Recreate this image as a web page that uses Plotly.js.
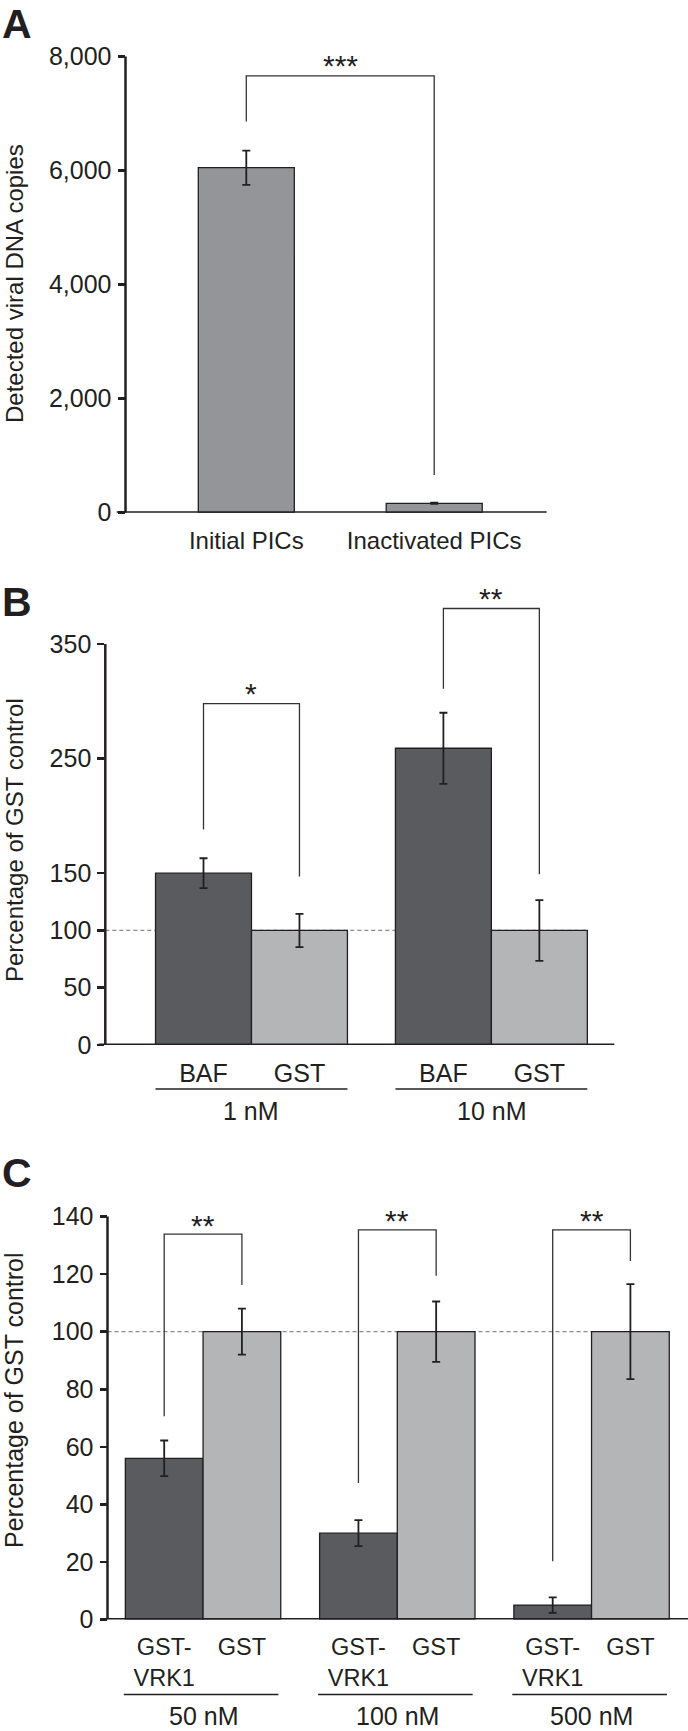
<!DOCTYPE html>
<html><head><meta charset="utf-8">
<script src="https://cdn.plot.ly/plotly-3.0.1.min.js"></script>
<style>html,body{margin:0;padding:0;background:#fff;} #chart{width:688px;height:1731px;}</style>
</head><body><div id="chart"></div>
<script>
// ---------- Panel A data ----------
const aCategories = ['Initial PICs', 'Inactivated PICs'];
const aValues = [6050, 165];
const aErrors = [300, 10];
const aTicks = [0, 2000, 4000, 6000, 8000];
const aSigLabels = ['***'];
const aSigPairs = [[0, 1]];
const aSigLegBase = [[6860, 660]];
const aSigTop = [7660];
const aSigText = [7960];

// ---------- Panel B data ----------
const bGroups = ['1 nM', '10 nM'];
const bSamples = ['BAF', 'GST'];
const bBAF = [150, 259];
const bBAFErr = [13, 31];
const bGST = [100, 100];
const bGSTErr = [14.5, 26.5];
const bTicks = [0, 50, 100, 150, 250, 350];
const bSigLabels = ['*', '**'];
const bSigLegBase = [[188, 147], [311, 149]];
const bSigTop = [298, 381];
const bSigText = [313, 396];

// ---------- Panel C data ----------
const cGroups = ['50 nM', '100 nM', '500 nM'];
const cSamples = ['GST-<br>VRK1', 'GST'];
const cVRK1 = [56, 30, 5];
const cVRK1Err = [6.2, 4.5, 2.7];
const cGST = [100, 100, 100];
const cGSTErr = [8, 10.5, 16.5];
const cTicks = [0, 20, 40, 60, 80, 100, 120, 140];
const cSigLabels = ['**', '**', '**'];
const cSigLegBase = [[70.6, 116.2], [47.4, 119.4], [20.2, 124.6]];
const cSigTop = [133.9, 135.4, 135.4];
const cSigText = [139.4, 141, 141];

const refLevel = 100;
const yTitleA = 'Detected viral DNA copies';
const yTitleBC = 'Percentage of GST control';
const panelLetters = ['A', 'B', 'C'];

// ---------- styling / geometry ----------
const W = 688, H = 1731;
const FONT = '"Liberation Sans", Arial, Helvetica, sans-serif';
const INK = '#231f20';
const colA = '#939598', colDark = '#5a5b5f', colLight = '#b4b5b7';
const px2x = p => p / W;
const px2y = p => 1 - p / H;
const stride = 2.5;
const pos = (g, s) => g * stride + s;

const barLine = {color: INK, width: 1.3};
const errStyle = (arr) => ({type: 'data', array: arr, visible: true, color: INK, thickness: 1.8, width: 4});

const traces = [];
traces.push({type: 'bar', x: aCategories.map((_, i) => i), y: aValues, width: 0.511,
  marker: {color: colA, line: barLine}, error_y: errStyle(aErrors), xaxis: 'x', yaxis: 'y'});
traces.push({type: 'bar', x: bGroups.map((_, g) => pos(g, 0)), y: bBAF, width: 1,
  marker: {color: colDark, line: barLine}, error_y: errStyle(bBAFErr), xaxis: 'x2', yaxis: 'y2'});
traces.push({type: 'bar', x: bGroups.map((_, g) => pos(g, 1)), y: bGST, width: 1,
  marker: {color: colLight, line: barLine}, error_y: errStyle(bGSTErr), xaxis: 'x2', yaxis: 'y2'});
traces.push({type: 'bar', x: cGroups.map((_, g) => pos(g, 0)), y: cVRK1, width: 1,
  marker: {color: colDark, line: barLine}, error_y: errStyle(cVRK1Err), xaxis: 'x3', yaxis: 'y3'});
traces.push({type: 'bar', x: cGroups.map((_, g) => pos(g, 1)), y: cGST, width: 1,
  marker: {color: colLight, line: barLine}, error_y: errStyle(cGSTErr), xaxis: 'x3', yaxis: 'y3'});

// panel geometry (pixels): y0 = pixel of value 0, ppu = pixels per unit, rmax = axis range top
const geo = {
  A: {xl: 125.5, xr: 546.7, lineL: 116.7, lineR: 546.7, y0: 512.7, ppu: 456.2 / 8000, rmax: 8600, x0px: 246.3, unit: 187.9},
  B: {xl: 105.3, xr: 614.3, lineL: 98.7, lineR: 614.3, y0: 1045, ppu: 1.1457, rmax: 420, x0px: 203.5, unit: 95.96},
  C: {xl: 107.5, xr: 688, lineL: 100, lineR: 688, y0: 1619.5, ppu: 2.878, rmax: 150, x0px: 164.2, unit: 77.7}
};
function xRange(g) { return [(g.xl - g.x0px) / g.unit, (g.xr - g.x0px) / g.unit]; }

const axBase = {showgrid: false, zeroline: false, showline: false, fixedrange: true, color: INK};
const yAx = (g, ticks, anchor, fmt) => Object.assign({}, axBase, {
  domain: [px2y(g.y0), px2y(g.y0 - g.rmax * g.ppu)], range: [0, g.rmax], anchor: anchor,
  tickvals: ticks, tickformat: fmt, ticks: 'outside', ticklen: 7, tickwidth: 2.5, tickcolor: INK,
  ticklabelstandoff: 1,
  tickfont: {size: 25, color: INK, family: FONT}
});
const xAx = (g, vals, text, anchor, size, standoff) => Object.assign({}, axBase, {
  domain: [px2x(g.xl), px2x(g.xr)], range: xRange(g), anchor: anchor,
  tickvals: vals, ticktext: text, ticks: '', tickfont: {size: size, color: INK, family: FONT},
  ticklabelstandoff: standoff
});

const bTickPos = [], bTickText = [];
bGroups.forEach((_, g) => bSamples.forEach((s, i) => { bTickPos.push(pos(g, i)); bTickText.push(s); }));
const cTickPos = [], cTickText = [];
cGroups.forEach((_, g) => cSamples.forEach((s, i) => { cTickPos.push(pos(g, i)); cTickText.push(s); }));

const shapes = [];
const annotations = [];

function axisLines(g, yref, yTop) {
  shapes.push({type: 'line', xref: 'paper', yref: yref, x0: px2x(g.xl), x1: px2x(g.xl), y0: 0, y1: yTop,
    line: {color: INK, width: 2.5}});
  shapes.push({type: 'line', xref: 'paper', yref: yref, x0: px2x(g.lineL), x1: px2x(g.lineR), y0: 0, y1: 0,
    line: {color: INK, width: 3}});
}
axisLines(geo.A, 'y', Math.max(...aTicks));
axisLines(geo.B, 'y2', Math.max(...bTicks));
axisLines(geo.C, 'y3', Math.max(...cTicks));

// reference dashed lines
shapes.push({type: 'line', xref: 'x2', yref: 'y2', layer: 'below', x0: xRange(geo.B)[0], x1: pos(bGroups.length - 1, 1) + 0.5,
  y0: refLevel, y1: refLevel, line: {color: '#8c8c8c', width: 1.3, dash: '4px,3px'}});
shapes.push({type: 'line', xref: 'x3', yref: 'y3', layer: 'below', x0: xRange(geo.C)[0], x1: pos(cGroups.length - 1, 1) + 0.5,
  y0: refLevel, y1: refLevel, line: {color: '#8c8c8c', width: 1.3, dash: '4px,3px'}});

function bracket(xr, yr, xl, xrt, base, top, label, textY) {
  shapes.push({type: 'path', xref: xr, yref: yr,
    path: `M ${xl},${base[0]} L ${xl},${top} L ${xrt},${top} L ${xrt},${base[1]}`,
    line: {color: '#333333', width: 1.3}});
  annotations.push({xref: xr, yref: yr, x: (xl + xrt) / 2, y: textY, text: label, showarrow: false,
    xanchor: 'center', yanchor: 'middle', yshift: -7, font: {size: 30, color: INK, family: FONT}});
}
aSigLabels.forEach((l, i) => bracket('x', 'y', aSigPairs[i][0], aSigPairs[i][1], aSigLegBase[i], aSigTop[i], l, aSigText[i]));
bSigLabels.forEach((l, g) => bracket('x2', 'y2', pos(g, 0), pos(g, 1), bSigLegBase[g], bSigTop[g], l, bSigText[g]));
cSigLabels.forEach((l, g) => bracket('x3', 'y3', pos(g, 0), pos(g, 1), cSigLegBase[g], cSigTop[g], l, cSigText[g]));

// group underlines and labels
function groupMarks(groups, xr, lineY, labelY, l0, l1) {
  groups.forEach((name, g) => {
    shapes.push({type: 'line', xref: xr, yref: 'paper', x0: pos(g, 0) + l0, x1: pos(g, 1) + l1,
      y0: px2y(lineY), y1: px2y(lineY), line: {color: INK, width: 1.5}});
    annotations.push({xref: xr, yref: 'paper', x: pos(g, 0.5), y: px2y(labelY), text: name, showarrow: false,
      xanchor: 'center', yanchor: 'middle', font: {size: 25, color: INK, family: FONT}});
  });
}
groupMarks(bGroups, 'x2', 1089, 1110.8, -0.5, 0.5);
groupMarks(cGroups, 'x3', 1694.5, 1716, -0.52, 0.47);

// y titles
[[yTitleA, 284, 24], [yTitleBC, 840, 24], [yTitleBC, 1400, 25]].forEach(([t, yc, fs]) => {
  annotations.push({xref: 'paper', yref: 'paper', x: px2x(14), y: px2y(yc), text: t, textangle: -90,
    showarrow: false, xanchor: 'center', yanchor: 'middle', font: {size: fs, color: INK, family: FONT}});
});
// panel letters
annotations.push({xref: 'paper', yref: 'paper', x: px2x(17), y: 1, text: '<b>' + panelLetters[0] + '</b>',
  showarrow: false, xanchor: 'center', yanchor: 'top', borderpad: 0, font: {size: 41, color: INK, family: FONT}});
[[panelLetters[1], 602], [panelLetters[2], 1173]].forEach(([t, yc]) => {
  annotations.push({xref: 'paper', yref: 'paper', x: px2x(17), y: px2y(yc), text: '<b>' + t + '</b>',
    showarrow: false, xanchor: 'center', yanchor: 'middle', font: {size: 41, color: INK, family: FONT}});
});

const layout = {
  width: W, height: H, margin: {l: 0, r: 0, t: 0, b: 0}, paper_bgcolor: '#fff', plot_bgcolor: 'rgba(0,0,0,0)',
  showlegend: false, font: {family: FONT, color: INK},
  xaxis: xAx(geo.A, [0, 1], aCategories, 'y', 24, 11),
  yaxis: yAx(geo.A, aTicks, 'x', ','),
  xaxis2: xAx(geo.B, bTickPos, bTickText, 'y2', 25, 11),
  yaxis2: yAx(geo.B, bTicks, 'x2', ''),
  xaxis3: xAx(geo.C, cTickPos, cTickText, 'y3', 23.5, 11),
  yaxis3: yAx(geo.C, cTicks, 'x3', ''),
  shapes: shapes, annotations: annotations
};

Plotly.newPlot('chart', traces, layout, {displayModeBar: false, staticPlot: true});
</script></body></html>
